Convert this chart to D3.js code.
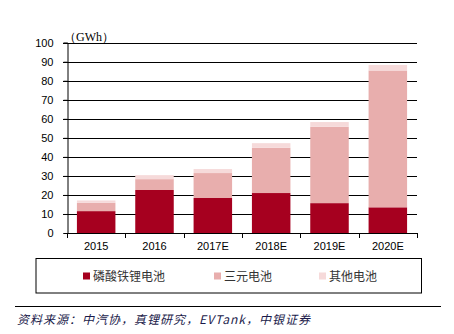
<!DOCTYPE html>
<html><head><meta charset="utf-8">
<script src="https://cdn.jsdelivr.net/npm/d3@7"></script>
<style>body{margin:0;background:#fff}svg{display:block}</style>
</head><body>
<script>
const categories = ["2015","2016","2017E","2018E","2019E","2020E"];
const seriesNames = ["磷酸铁锂电池","三元电池","其他电池"];
const lfp = [11.5, 22.6, 18.4, 21.0, 15.7, 13.5];
const ternary = [4.4, 5.7, 13.1, 23.8, 40.1, 71.9];
const other = [1.2, 2.1, 2.1, 2.4, 2.5, 2.9];
const yTicks = [0,10,20,30,40,50,60,70,80,90,100];
const colors = ["#A6001F","#E8AEAD","#F6DADA"];
const unitLabel = "（GWh）";
const source = "资料来源：中汽协，真锂研究，EVTank，中银证券";

const W=454,H=334;
const svg=d3.select("body").append("svg").attr("width",W).attr("height",H);
const x=d3.scaleBand().domain(categories).range([67,417]).paddingInner(0.34).paddingOuter(0.17);
const y=d3.scaleLinear().domain([0,100]).range([233,42.7]);

// gridlines
svg.append("g").selectAll("line").data(yTicks.filter(d=>d>0)).join("line")
  .attr("x1",63).attr("x2",417).attr("y1",d=>Math.round(y(d))+0.5).attr("y2",d=>Math.round(y(d))+0.5)
  .attr("stroke","#000").attr("stroke-width",1);

const data=categories.map((c,i)=>({cat:c,lfp:lfp[i],ternary:ternary[i],other:other[i]}));
const stack=d3.stack().keys(["lfp","ternary","other"])(data);
svg.append("g").selectAll("g").data(stack).join("g").attr("fill",(d,i)=>colors[i])
  .selectAll("rect").data(d=>d).join("rect")
  .attr("x",d=>x(d.data.cat)).attr("width",x.bandwidth())
  .attr("y",d=>y(d[1])).attr("height",d=>y(d[0])-y(d[1]));

// y axis
const ya=svg.append("g").attr("transform","translate(67.5,0)")
  .call(d3.axisLeft(y).tickValues(yTicks).tickSize(4).tickPadding(10));
ya.select(".domain").attr("stroke","#000");
ya.selectAll("text").attr("font-family","Liberation Sans, Arial, sans-serif").attr("font-size","11px").attr("fill","#000");
// x axis
const xb=d3.scaleBand().domain(categories).range([67,417]);
const xa=svg.append("g").attr("transform","translate(0,233.5)")
  .call(d3.axisBottom(x).tickSize(0).tickPadding(9));
xa.select(".domain").attr("d","M67,0H417").attr("stroke","#000");
xa.selectAll("text").attr("font-family","Liberation Sans, Arial, sans-serif").attr("font-size","11px").attr("fill","#000");
svg.append("g").selectAll("line").data(categories.map(c=>xb(c)).concat([417])).join("line")
  .attr("x1",d=>Math.round(d)+0.5).attr("x2",d=>Math.round(d)+0.5).attr("y1",233).attr("y2",238)
  .attr("stroke","#000");

svg.append("text").attr("x",64).attr("y",41).text(unitLabel)
  .attr("font-family","Liberation Serif, Times New Roman, serif").attr("font-size","12px").attr("fill","#000");

// legend
svg.append("rect").attr("x",36).attr("y",258.5).attr("width",385.5).attr("height",34.5)
  .attr("fill","none").attr("stroke","#000").attr("stroke-width",1);
const lx=[83,214,319];
const lg=svg.append("g").selectAll("g").data(seriesNames).join("g")
  .attr("transform",(d,i)=>`translate(${lx[i]},276)`);
lg.append("rect").attr("x",0).attr("y",-3.5).attr("width",7).attr("height",7).attr("fill",(d,i)=>colors[i]);
lg.append("text").attr("x",10).attr("y",4.5).text(d=>d)
  .attr("font-family","Noto Sans CJK SC, sans-serif").attr("font-size","12px").attr("fill","#333");

svg.append("line").attr("x1",15).attr("x2",441).attr("y1",306.5).attr("y2",306.5).attr("stroke","#000");
svg.append("text").attr("x",17).attr("y",323.5).text(source)
  .attr("font-family","Noto Sans CJK SC, sans-serif").attr("font-size","12px").attr("font-style","italic")
  .attr("letter-spacing","1px").attr("fill","#1a1a4a");
</script>
</body></html>
